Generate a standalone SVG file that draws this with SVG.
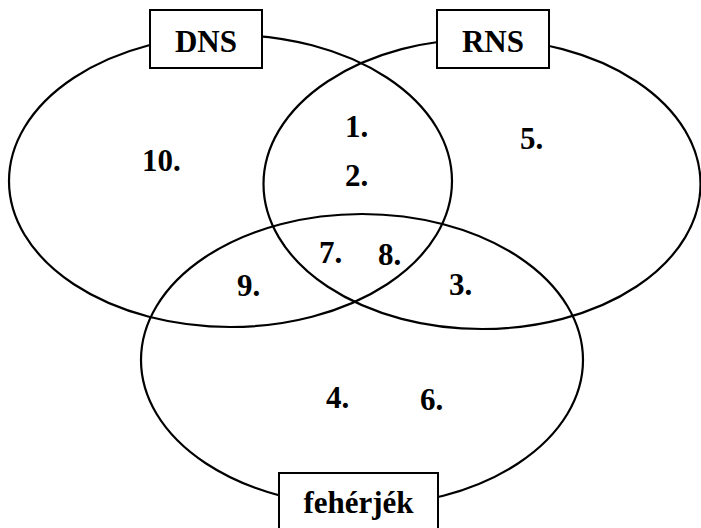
<svg xmlns="http://www.w3.org/2000/svg" width="701" height="528" viewBox="0 0 701 528">
<style>
.set{fill:none;stroke:#000;stroke-width:2.2}
.box{fill:#fff;stroke:#000;stroke-width:2}
.t{font-family:"Liberation Serif","Times New Roman",serif;font-weight:bold;font-size:31px;fill:#000}
.c{text-anchor:middle}
</style>
<rect width="701" height="528" fill="#fff"/>
<g id="sets">
<ellipse id="dns-set" class="set" cx="230.5" cy="181" rx="221.5" ry="146"/>
<ellipse id="rns-set" class="set" cx="482" cy="184" rx="218.5" ry="145"/>
<ellipse id="feherjek-set" class="set" cx="362" cy="360" rx="221" ry="146"/>
</g>
<g id="dns">
<rect class="box" x="150" y="10" width="112" height="58"/>
<text class="t c" x="206" y="52">DNS</text>
</g>
<g id="rns">
<rect class="box" x="437" y="10" width="112" height="58"/>
<text class="t c" x="493" y="52">RNS</text>
</g>
<g id="feherjek">
<rect class="box" x="279" y="473" width="159" height="70"/>
<text class="t c" x="358.5" y="513">fehérjék</text>
</g>
<g id="numbers">
<text class="t" x="142" y="171">10.</text>
<text class="t" x="520" y="149">5.</text>
<text class="t" x="345" y="137">1.</text>
<text class="t" x="345" y="186">2.</text>
<text class="t" x="319" y="263">7.</text>
<text class="t" x="378" y="265">8.</text>
<text class="t" x="237" y="296">9.</text>
<text class="t" x="449" y="295">3.</text>
<text class="t" x="326" y="408">4.</text>
<text class="t" x="420" y="410">6.</text>
</g>
<g id="connectors"></g>
</svg>
